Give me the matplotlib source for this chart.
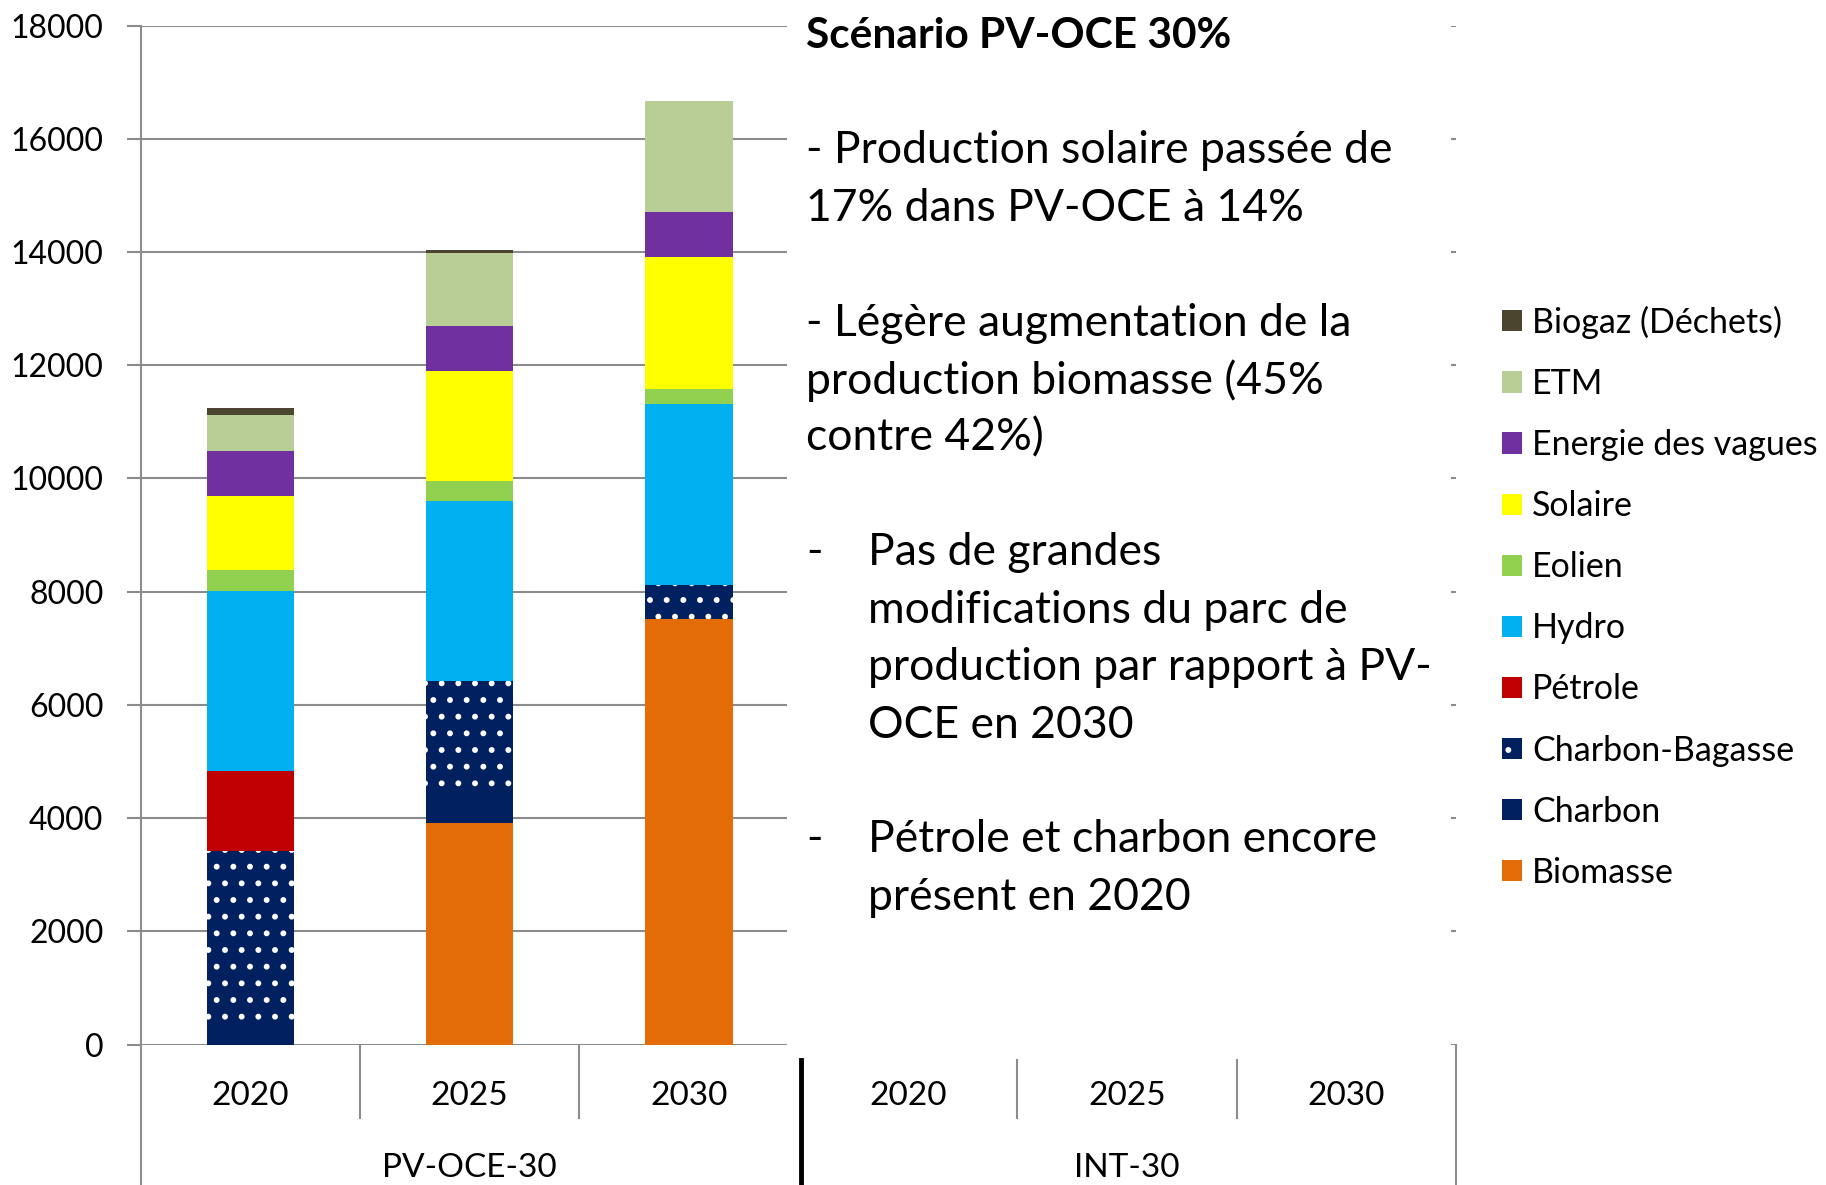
import matplotlib
matplotlib.use("Agg")
import matplotlib.pyplot as plt
import matplotlib.transforms as mtransforms
from matplotlib.patches import Patch, Rectangle

plt.rcParams['font.family'] = ['Lato', 'DejaVu Sans']
plt.rcParams['hatch.linewidth'] = 1.8

# données (estimées depuis l'image)
years = ["2020", "2025", "2030", "2020", "2025", "2030"]
groups = ["PV-OCE-30", "INT-30"]
series = ["Biomasse", "Charbon", "Charbon-Bagasse", "Pétrole", "Hydro",
          "Eolien", "Solaire", "Energie des vagues", "ETM", "Biogaz (Déchets)"]
biomasse = [0, 3920, 7510]
charbon = [250, 470, 0]
charbon_bagasse = [3170, 2040, 615]
petrole = [1420, 0, 0]
hydro = [3180, 3180, 3185]
eolien = [370, 350, 270]
solaire = [1300, 1945, 2325]
vagues = [790, 795, 800]
etm = [650, 1290, 1970]
biogaz = [110, 50, 0]
colors = ["#E36C09", "#002060", "#002060", "#C00000", "#00B0F0",
          "#92D050", "#FFFF00", "#7030A0", "#B9CD96", "#4B4530"]

text_lines = [
    (0, 0, "Scénario PV-OCE 30%", True),
    (2, 0, "- Production solaire passée de", False),
    (3, 0, "17% dans PV-OCE à 14%", False),
    (5, 0, "- Légère augmentation de la", False),
    (6, 0, "production biomasse (45%", False),
    (7, 0, "contre 42%)", False),
    (9, 0, "-", False), (9, 1, "Pas de grandes", False),
    (10, 1, "modifications du parc de", False),
    (11, 1, "production par rapport à PV-", False),
    (12, 1, "OCE en 2030", False),
    (14, 0, "-", False), (14, 1, "Pétrole et charbon encore", False),
    (15, 1, "présent en 2020", False),
]

values = [biomasse, charbon, charbon_bagasse, petrole, hydro,
          eolien, solaire, vagues, etm, biogaz]
grey = "#8C8C8C"

fig = plt.figure(figsize=(18.26, 11.85), dpi=100)
ax = fig.add_axes([0.0772, 0.1185, 0.72, 0.8599])

xs = [0.5, 1.5, 2.5]
bottom = [0, 0, 0]
handles = []
for name, vals, col in zip(series, values, colors):
    hatch = "." if name == "Charbon-Bagasse" else None
    ax.bar(xs, vals, width=0.4, bottom=bottom, color=col, hatch=hatch,
           edgecolor="white" if hatch else col, linewidth=0, zorder=3)
    bottom = [b + v for b, v in zip(bottom, vals)]
    handles.append(Patch(facecolor=col, hatch=hatch,
                         edgecolor="white" if hatch else col, linewidth=0,
                         label=name))

ax.set_xlim(0, 6)
ax.set_ylim(0, 18000)
ax.set_yticks(range(0, 18001, 2000))
ax.tick_params(axis='y', labelsize=23, length=10, width=1.5, color=grey, pad=17)
ax.set_xticks([])
ax.yaxis.grid(True, color=grey, linewidth=1.5)
ax.set_axisbelow(True)
for s in ["top", "right", "bottom"]:
    ax.spines[s].set_visible(False)
ax.spines["left"].set_color(grey)
ax.spines["left"].set_linewidth(1.5)

# zone de texte blanche qui masque la grille
ax.add_patch(Rectangle((2.95, -230), 3.03, 19000, facecolor="white",
                       edgecolor="none", zorder=1.5, clip_on=False))

# axe des catégories
tr = mtransforms.blended_transform_factory(ax.transData, ax.transAxes)
for x in [0, 6]:
    ax.plot([x, x], [0, -0.14], color=grey, lw=1.5, transform=tr, clip_on=False)
for x in [1, 2]:
    ax.plot([x, x], [0, -0.072], color=grey, lw=1.5, transform=tr, clip_on=False)
for x in [4, 5]:
    ax.plot([x, x], [-0.015, -0.072], color=grey, lw=1.5, transform=tr, clip_on=False)
ax.plot([3.01, 3.01], [-0.015, -0.14], color="black", lw=3.5, transform=tr, clip_on=False)
for i, y in enumerate(years):
    ax.text(i + 0.5, -0.0505, y, transform=tr, ha="center", va="center", fontsize=24)
for i, g in enumerate(groups):
    ax.text(1.5 + 3 * i, -0.121, g, transform=tr, ha="center", va="center", fontsize=24)

# texte du scénario
for row, indent, txt, bold in text_lines:
    y = 1 - (31 + 49.3 * row) * 1.1645 / 1185
    x = 0.4413 if indent == 0 else 0.4751
    fig.text(x, y, txt, ha="left", va="center",
             fontsize=30.5 if bold else 32,
             fontweight="bold" if bold else "normal")

fig.legend(handles=handles[::-1], loc="upper left", bbox_to_anchor=(0.8226, 0.742),
           frameon=False, fontsize=24.5, handlelength=0.58, handleheight=0.58,
           handletextpad=0.3, labelspacing=0.855, borderpad=0, borderaxespad=0)

fig.savefig("out.png", dpi=100)
